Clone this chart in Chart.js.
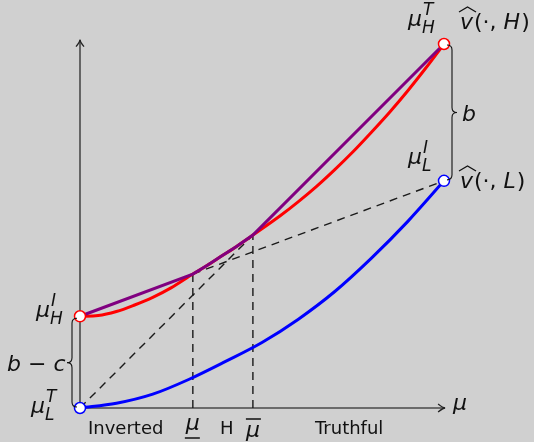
<!DOCTYPE html>
<html lang="en">
<head>
<meta charset="utf-8" />
<title>Value curves</title>
<style>
    body { margin: 0; background: #d0d0d0; }
    #wrap { width: 534px; height: 442px; }
</style>
</head>
<body>
<div id="wrap"><canvas id="mychart" width="534" height="442"></canvas></div>
<script src="https://cdn.jsdelivr.net/npm/chart.js@4.4.1/dist/chart.umd.min.js"></script>
<script>
    // v(mu, H) : red curve
    const redMu = [0, 0.05, 0.10, 0.15, 0.20, 0.25, 0.31, 0.35, 0.39, 0.43, 0.475, 0.55, 0.60, 0.65, 0.70, 0.75, 0.80, 0.85, 0.90, 0.95, 1];
    const redV = [0.252, 0.254, 0.265, 0.283, 0.304, 0.330, 0.368, 0.392, 0.418, 0.444, 0.475, 0.528, 0.567, 0.609, 0.655, 0.704, 0.757, 0.812, 0.871, 0.934, 1];

    // upper envelope of v(mu, H) : purple
    const hullMu = [0, 0.31, 0.35, 0.39, 0.43, 0.475, 1];
    const hullV = [0.252, 0.368, 0.392, 0.418, 0.444, 0.475, 1];

    // v(mu, L) : blue curve
    const blueMu = [0, 0.1, 0.2, 0.3, 0.4, 0.5, 0.6, 0.7, 0.8, 0.9, 1];
    const blueV = [0, 0.013, 0.038, 0.079, 0.128, 0.180, 0.244, 0.320, 0.411, 0.512, 0.624];

    // cut-off beliefs: mu (lower) and mu bar
    const cutMu = [0.31, 0.475];
    const cutV = [0.368, 0.475];

    // end points: mu_L^T, mu_H^I, mu_L^I, mu_H^T
    const endMu = [0, 0, 1, 1];
    const endV = [0, 0.252, 0.624, 1];

    const pts = (xs, ys) => xs.map((x, i) => ({ x: x, y: ys[i] }));

    const MATH = 'italic 22px "DejaVu Sans"';
    const SCRIPT = 'italic 17px "DejaVu Sans"';
    const UP = '22px "DejaVu Sans"';
    const TEXT = '18px "DejaVu Sans"';

    function put(ctx, txt, x, y, font) {
        ctx.font = font;
        ctx.fillText(txt, x, y);
        return ctx.measureText(txt).width;
    }

    // mu with super- and subscript
    function muLabel(ctx, x, y, sup, sub) {
        const w = put(ctx, 'μ', x, y, MATH);
        put(ctx, sup, x + w + 1, y - 11, SCRIPT);
        put(ctx, sub, x + w, y + 7, SCRIPT);
    }

    // \widehat{v}(., state)
    function vhat(ctx, x, y, state) {
        let w = put(ctx, 'v', x, y, MATH);
        ctx.beginPath();
        ctx.lineWidth = 1.3;
        ctx.moveTo(x - 1, y - 17);
        ctx.lineTo(x + w / 2 + 1, y - 22);
        ctx.lineTo(x + w + 3, y - 17);
        ctx.stroke();
        let cx = x + w + 1;
        cx += put(ctx, '(·, ', cx, y, UP);
        cx += put(ctx, state, cx, y, MATH);
        put(ctx, ')', cx + 1, y, UP);
    }

    // vertical curly brace, dir = +1 bulges right, -1 bulges left
    function brace(ctx, x0, y1, y2, dir) {
        const a = 5;
        const ym = (y1 + y2) / 2;
        const xl = x0 + dir * a;
        ctx.beginPath();
        ctx.lineWidth = 1.1;
        ctx.moveTo(x0, y1);
        ctx.quadraticCurveTo(xl, y1, xl, y1 + a);
        ctx.lineTo(xl, ym - a);
        ctx.quadraticCurveTo(xl, ym, xl + dir * a, ym);
        ctx.quadraticCurveTo(xl, ym, xl, ym + a);
        ctx.lineTo(xl, y2 - a);
        ctx.quadraticCurveTo(xl, y2, x0, y2);
        ctx.stroke();
    }

    function arrowHead(ctx, x, y, dx, dy) {
        // dx, dy: unit direction of the arrow
        const nx = -dy, ny = dx;
        ctx.beginPath();
        ctx.moveTo(x - dx * 7 + nx * 4, y - dy * 7 + ny * 4);
        ctx.quadraticCurveTo(x - dx * 2, y - dy * 2, x, y);
        ctx.quadraticCurveTo(x - dx * 2, y - dy * 2, x - dx * 7 - nx * 4, y - dy * 7 - ny * 4);
        ctx.stroke();
    }

    const sketch = {
        id: 'sketch',
        beforeDatasetsDraw(chart) {
            const ctx = chart.ctx;
            const xs = chart.scales.x, ys = chart.scales.y;
            const ox = xs.getPixelForValue(0), oy = ys.getPixelForValue(0);
            const xt = xs.getPixelForValue(1.003), yt = ys.getPixelForValue(1.012);
            ctx.save();
            ctx.strokeStyle = '#4a4a4a';
            ctx.lineWidth = 1.6;
            ctx.beginPath();
            ctx.moveTo(ox, oy);
            ctx.lineTo(xt, oy);
            ctx.moveTo(ox, oy);
            ctx.lineTo(ox, yt);
            ctx.stroke();
            ctx.lineWidth = 1.3;
            ctx.strokeStyle = '#222';
            arrowHead(ctx, xt, oy, 1, 0);
            arrowHead(ctx, ox, yt, 0, -1);
            ctx.restore();
        },
        afterDatasetsDraw(chart) {
            const ctx = chart.ctx;
            const xs = chart.scales.x, ys = chart.scales.y;
            const px = v => xs.getPixelForValue(v);
            const py = v => ys.getPixelForValue(v);
            ctx.save();
            ctx.fillStyle = '#111';
            ctx.strokeStyle = '#111';
            ctx.textBaseline = 'alphabetic';

            // braces b and b - c
            brace(ctx, px(1) + 3, py(endV[3]) + 1, py(endV[2]) - 1, 1);
            brace(ctx, px(0) - 3, py(endV[1]) + 2, py(endV[0]) - 1, -1);
            put(ctx, 'b', 462, 121, MATH);
            let cx = 7;
            cx += put(ctx, 'b', cx, 371, MATH);
            cx += put(ctx, ' − ', cx, 371, UP);
            put(ctx, 'c', cx, 371, MATH);

            // point labels
            muLabel(ctx, 408, 26, 'T', 'H');
            muLabel(ctx, 408, 164, 'I', 'L');
            muLabel(ctx, 36, 317, 'I', 'H');
            muLabel(ctx, 31, 413, 'T', 'L');
            vhat(ctx, 460, 29, 'H');
            vhat(ctx, 460, 188, 'L');

            // axis label
            put(ctx, 'μ', 453, 410, MATH);

            // region labels under the axis
            put(ctx, 'Inverted', 88, 434, TEXT);
            put(ctx, 'Truthful', 315, 434, TEXT);
            ctx.textAlign = 'center';
            const m0 = px(cutMu[0]), m1 = px(cutMu[1]);
            put(ctx, 'μ', m0, 430, MATH);
            put(ctx, 'H', (m0 + m1) / 2 + 4, 434, TEXT);
            put(ctx, 'μ', m1, 437, MATH);
            ctx.lineWidth = 1.3;
            ctx.beginPath();
            ctx.moveTo(m0 - 8, 438);
            ctx.lineTo(m0 + 7, 438);
            ctx.moveTo(m1 - 7, 419);
            ctx.lineTo(m1 + 8, 419);
            ctx.stroke();
            ctx.restore();
        }
    };

    const dash = (a, b) => ({
        data: pts(a, b),
        showLine: true,
        borderColor: '#1a1a1a',
        borderWidth: 1.4,
        borderDash: [8, 6],
        pointRadius: 0,
        order: 4
    });

    new Chart(document.getElementById('mychart'), {
        type: 'scatter',
        data: {
            datasets: [{
                data: pts(endMu, endV),
                pointRadius: 5.5,
                pointBorderWidth: 1.5,
                pointBackgroundColor: '#fff',
                pointBorderColor: ['#0000ff', '#ff0000', '#0000ff', '#ff0000'],
                order: 0
            }, {
                data: pts(hullMu, hullV),
                showLine: true,
                borderColor: '#800080',
                borderWidth: 3,
                tension: 0,
                pointRadius: 0,
                order: 1
            }, {
                data: pts(redMu, redV),
                showLine: true,
                borderColor: '#ff0000',
                borderWidth: 3,
                cubicInterpolationMode: 'monotone',
                pointRadius: 0,
                order: 2
            }, {
                data: pts(blueMu, blueV),
                showLine: true,
                borderColor: '#0000ff',
                borderWidth: 3,
                cubicInterpolationMode: 'monotone',
                pointRadius: 0,
                order: 2
            },
            dash([0, cutMu[1]], [0, cutV[1]]),
            dash([cutMu[0], 1], [cutV[0], endV[2]]),
            dash([cutMu[0], cutMu[0]], [0, cutV[0]]),
            dash([cutMu[1], cutMu[1]], [0, cutV[1]])
            ]
        },
        options: {
            responsive: false,
            animation: false,
            devicePixelRatio: 1,
            layout: { padding: 0, autoPadding: false },
            plugins: { legend: { display: false }, tooltip: { enabled: false } },
            scales: {
                x: { type: 'linear', display: false, min: -80 / 364, max: 454 / 364 },
                y: { type: 'linear', display: false, min: -34 / 364, max: 408 / 364 }
            }
        },
        plugins: [sketch]
    });
</script>
</body>
</html>
